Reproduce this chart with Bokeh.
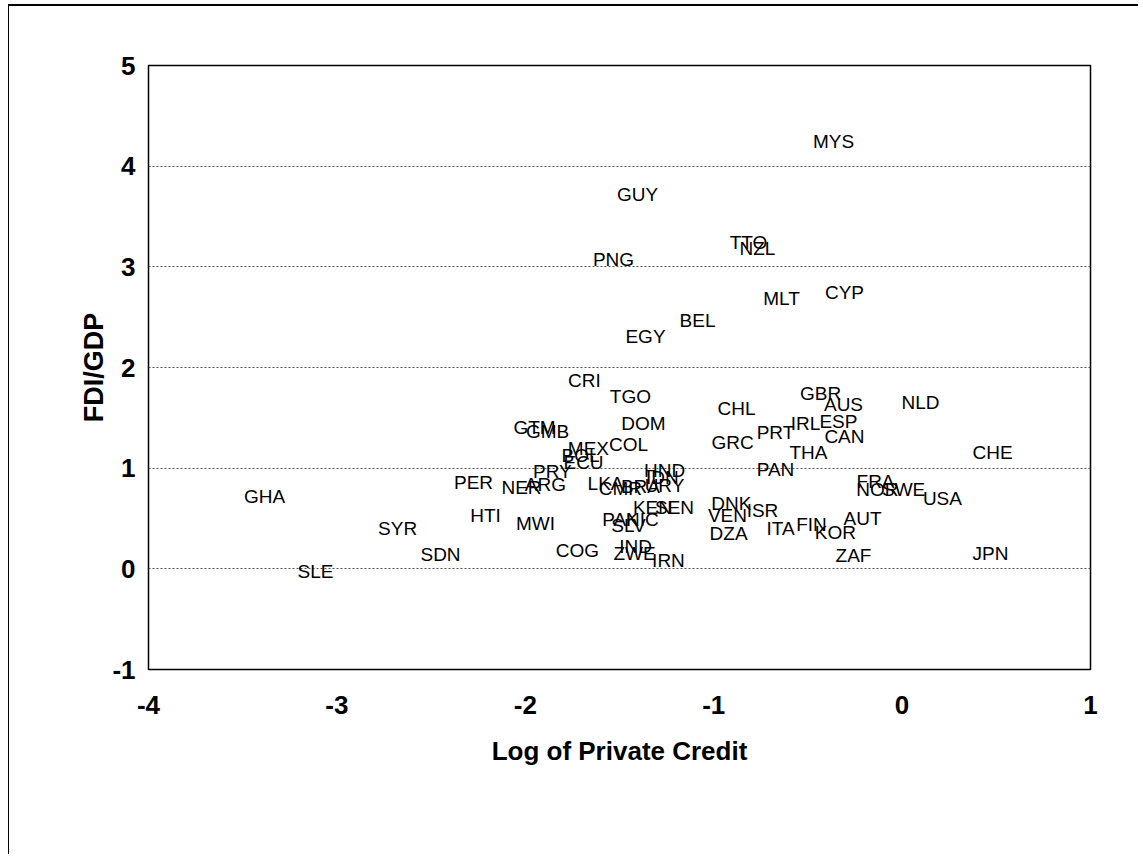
from bokeh.plotting import figure
from bokeh.models import Range1d, FixedTicker, ColumnDataSource
from bokeh.core.properties import value
from bokeh.embed import file_html
from bokeh.resources import INLINE

countries = ["MYS", "GUY", "TTO", "NZL", "PNG", "MLT", "CYP", "BEL", "EGY", "CRI",
             "TGO", "GBR", "AUS", "NLD", "CHL", "DOM", "IRL", "ESP", "PRT", "CAN",
             "GRC", "THA", "PAN", "CHE", "GTM", "GMB", "MEX", "COL", "BOL", "ECU",
             "PRY", "NER", "ARG", "PER", "GHA", "HTI", "SYR", "MWI", "SDN", "SLE",
             "COG", "LKA", "CMR", "BRA", "HND", "IDN", "URY", "KEN", "SEN", "PAK",
             "NIC", "SLV", "IND", "ZWE", "IRN", "DNK", "VEN", "ISR", "DZA", "ITA",
             "FIN", "KOR", "AUT", "ZAF", "JPN", "FRA", "NOR", "SWE", "USA"]
log_private_credit = [-0.364, -1.404, -0.815, -0.768, -1.532, -0.640, -0.306, -1.086, -1.362, -1.686,
                      -1.442, -0.433, -0.311, 0.098, -0.879, -1.373, -0.513, -0.338, -0.672, -0.306,
                      -0.900, -0.497, -0.672, 0.480, -1.951, -1.882, -1.665, -1.452, -1.707, -1.691,
                      -1.856, -2.020, -1.893, -2.275, -3.384, -2.211, -2.678, -1.946, -2.450, -3.114,
                      -1.723, -1.574, -1.495, -1.389, -1.261, -1.272, -1.261, -1.325, -1.208, -1.495,
                      -1.378, -1.452, -1.415, -1.420, -1.240, -0.906, -0.927, -0.741, -0.921, -0.645,
                      -0.481, -0.354, -0.210, -0.258, 0.469, -0.141, -0.131, 0.008, 0.214]
fdi_gdp = [4.245, 3.719, 3.242, 3.183, 3.073, 2.686, 2.746, 2.468, 2.309, 1.872,
           1.713, 1.743, 1.634, 1.653, 1.594, 1.445, 1.445, 1.465, 1.356, 1.316,
           1.256, 1.157, 0.988, 1.157, 1.405, 1.365, 1.197, 1.236, 1.127, 1.058,
           0.968, 0.809, 0.839, 0.859, 0.720, 0.531, 0.402, 0.452, 0.144, -0.025,
           0.184, 0.849, 0.799, 0.819, 0.978, 0.909, 0.829, 0.611, 0.611, 0.492,
           0.492, 0.432, 0.223, 0.154, 0.084, 0.650, 0.531, 0.581, 0.353, 0.402,
           0.442, 0.362, 0.501, 0.134, 0.154, 0.869, 0.789, 0.789, 0.700]

x_ticks = [-4, -3, -2, -1, 0, 1]
y_ticks = [-1, 0, 1, 2, 3, 4, 5]

src = ColumnDataSource(dict(x=log_private_credit, y=fdi_gdp, label=countries))

p = figure(width=1130, height=850, output_backend="svg", toolbar_location=None,
           x_range=Range1d(-4, 1), y_range=Range1d(-1, 5),
           min_border_left=139, min_border_right=49, min_border_top=59, min_border_bottom=187)
p.styles = {"border-left": "1px solid black", "border-top": "2px solid black",
            "margin-left": "8px", "margin-top": "4px"}

p.text(x="x", y="y", text="label", source=src, text_align="center", text_baseline="middle",
       text_font=value("Liberation Sans"), text_font_size="19px", text_color="black")

p.outline_line_color = "black"
p.outline_line_width = 1.5
p.xgrid.grid_line_color = None
p.ygrid.grid_line_color = "#555555"
p.ygrid.grid_line_dash = "2 2"
p.ygrid.grid_line_width = 1

p.xaxis.ticker = FixedTicker(ticks=x_ticks)
p.yaxis.ticker = FixedTicker(ticks=y_ticks)
p.xaxis.major_label_overrides = {t: str(t) for t in x_ticks}
p.yaxis.major_label_overrides = {t: str(t) for t in y_ticks}
for ax in (p.xaxis[0], p.yaxis[0]):
    ax.axis_line_color = None
    ax.major_tick_line_color = None
    ax.minor_tick_line_color = None
    ax.major_label_text_font = "Liberation Sans"
    ax.major_label_text_font_size = "26px"
    ax.major_label_text_font_style = "bold"
    ax.major_label_text_color = "black"
    ax.axis_label_text_font = "Liberation Sans"
    ax.axis_label_text_font_style = "bold"
    ax.axis_label_text_color = "black"

p.xaxis.axis_label_text_font_size = "26px"
p.yaxis.axis_label_text_font_size = "27px"
p.xaxis.axis_label = "Log of Private Credit"
p.yaxis.axis_label = "FDI/GDP"
p.xaxis.major_label_standoff = 20
p.xaxis.axis_label_standoff = 19
p.yaxis.major_label_standoff = 7
p.yaxis.axis_label_standoff = 0

open("out.html", "w").write(file_html(p, INLINE))
